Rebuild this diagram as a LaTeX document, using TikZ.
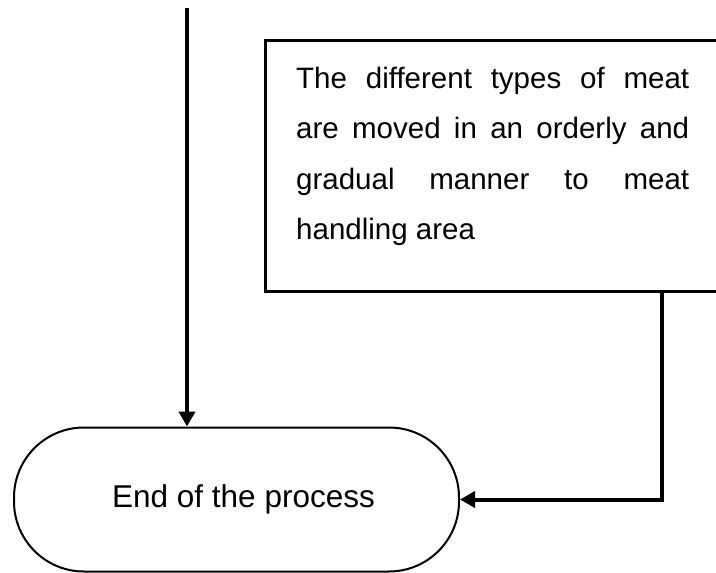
\documentclass[tikz,border=0pt]{standalone}
\usepackage{fontspec}
\setmainfont{Liberation Sans}
\usetikzlibrary{arrows.meta,calc}
\tolerance=10000
\hyphenpenalty=10000
\begin{document}
\begin{tikzpicture}[x=1pt,y=-1pt,
  conn/.style={line width=4pt, -{Triangle[width=16pt,length=15pt]}},
  procbox/.style={draw, line width=2.5pt, inner sep=0pt},
  terminal/.style={draw, line width=2pt, rounded corners=70pt, inner sep=0pt},
  boxtxt/.style={inner sep=0pt, text width=393pt, align=justify,
    font=\fontsize{29.5}{50.5}\selectfont},
  termtxt/.style={inner sep=0pt, font=\fontsize{31.5}{38}\selectfont}]
\useasboundingbox (0,0) rectangle (716,573);
\clip (0,0) rectangle (716,573);
% process box (right edge outside the picture)
\node[procbox, anchor=north west, minimum width=466pt, minimum height=251pt] (box) at (264,39) {};
\node[boxtxt, anchor=north west] (boxtext) at (296,52.65)
  {\tolerance=10000 \hyphenpenalty=10000 \strut The different types of meat\linebreak are moved in an orderly and\linebreak gradual manner to meat\linebreak handling area};
% terminal
\node[terminal, minimum width=445pt, minimum height=144pt] (end) at (236.5,499.5) {};
\node[termtxt, anchor=base] (endtext) at (243.5,507) {End of the process};
% connectors
\coordinate (top) at (187,8);
\draw[conn] (top) -- (top |- end.north);
\draw[conn] ($(box.south west)+(398,0)$) |- (end.east);
\end{tikzpicture}
\end{document}
